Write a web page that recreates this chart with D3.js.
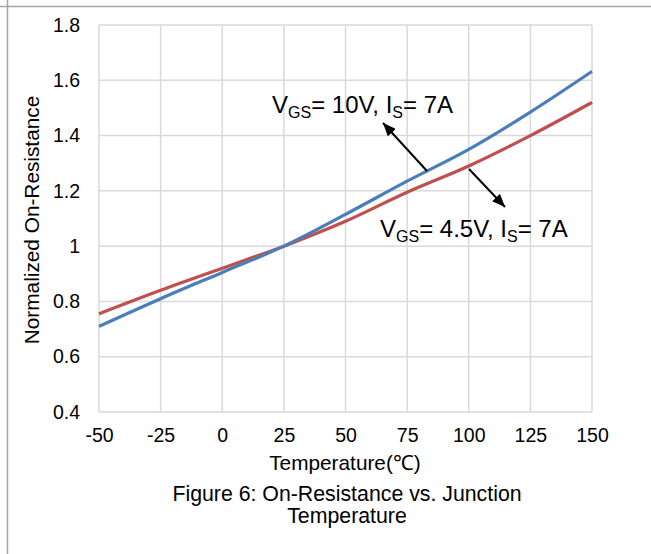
<!DOCTYPE html>
<html><head><meta charset="utf-8">
<script src="https://cdn.jsdelivr.net/npm/d3@7"></script>
<style>body{margin:0;background:#fff}svg{display:block}text{font-family:"Liberation Sans",Arial,sans-serif;fill:#000}</style>
</head><body>
<script>
const temps = [-50, -25, 0, 25, 50, 75, 100, 125, 150];
const vgs10 = [0.71, 0.81, 0.905, 1.0, 1.115, 1.235, 1.35, 1.485, 1.632];
const vgs45 = [0.755, 0.84, 0.92, 1.0, 1.09, 1.195, 1.29, 1.40, 1.52];
const xTicks = [-50, -25, 0, 25, 50, 75, 100, 125, 150];
const yTicks = [0.4, 0.6, 0.8, 1.0, 1.2, 1.4, 1.6, 1.8];

const W = 651, H = 554;
const FONT = "Liberation Sans, Arial, sans-serif";
const svg = d3.select("body").append("svg").attr("width", W).attr("height", H);
const defs = svg.append("defs");
defs.append("marker").attr("id","ah").attr("viewBox","0 0 12 10").attr("refX",12).attr("refY",5)
  .attr("markerWidth",13).attr("markerHeight",11).attr("markerUnits","userSpaceOnUse").attr("orient","auto")
  .append("path").attr("d","M0,0 L12,5 L0,10 Z").attr("fill","#000");

svg.append("line").attr("x1",0).attr("x2",W).attr("y1",6.5).attr("y2",6.5).attr("stroke","#a6a6a6").attr("stroke-width",1.5);
svg.append("line").attr("x1",7.5).attr("x2",7.5).attr("y1",0).attr("y2",H).attr("stroke","#a6a6a6").attr("stroke-width",1.5);

const x = d3.scaleLinear().domain([-50,150]).range([99,592]);
const y = d3.scaleLinear().domain([0.4,1.8]).range([412,25]);

const g = svg.append("g");
g.selectAll(".vg").data(xTicks).join("line").attr("x1",d=>x(d)).attr("x2",d=>x(d)).attr("y1",y(1.8)).attr("y2",y(0.4))
  .attr("stroke","#d9d9d9").attr("stroke-width",1.5);
g.selectAll(".hg").data(yTicks).join("line").attr("x1",x(-50)).attr("x2",x(150)).attr("y1",d=>y(d)).attr("y2",d=>y(d))
  .attr("stroke","#d9d9d9").attr("stroke-width",1.5);

const xa = svg.append("g").attr("transform",`translate(0,${y(0.4)})`)
  .call(d3.axisBottom(x).tickValues(xTicks).tickSize(0).tickPadding(16).tickFormat(d=>String(d)));
xa.select(".domain").remove();
xa.selectAll("text").attr("font-size",19.5).style("font-family",FONT).attr("fill","#000");
const ya = svg.append("g").attr("transform",`translate(${x(-50)},0)`)
  .call(d3.axisLeft(y).tickValues(yTicks).tickSize(0).tickPadding(19).tickFormat(d=> d===1 ? "1" : d3.format(".1f")(d)));
ya.select(".domain").remove();
ya.selectAll("text").attr("font-size",19.5).style("font-family",FONT).attr("fill","#000");

const line = d3.line().x((d,i)=>x(temps[i])).y(d=>y(d)).curve(d3.curveMonotoneX);
svg.append("path").datum(vgs45).attr("d",line).attr("fill","none").attr("stroke","#C0504D").attr("stroke-width",3.2);
svg.append("path").datum(vgs10).attr("d",line).attr("fill","none").attr("stroke","#4A7EBB").attr("stroke-width",3.2);

function label(tx, ty, parts){
  const t = svg.append("text").attr("x",tx).attr("y",ty).attr("font-size",24);
  parts.forEach(p=>{
    const s = t.append("tspan").text(p[0]);
    if(p[1]) s.attr("font-size",16).attr("dy",5); else s.attr("dy",p[2]||0);
  });
}
label(272, 113, [["V"],["GS",1],["= 10V, I",0,-5],["S",1],["= 7A",0,-5]]);
label(380, 237, [["V"],["GS",1],["= 4.5V, I",0,-5],["S",1],["= 7A",0,-5]]);

svg.append("line").attr("x1",427).attr("y1",171).attr("x2",383).attr("y2",123).attr("stroke","#000").attr("stroke-width",2).attr("marker-end","url(#ah)");
svg.append("line").attr("x1",469).attr("y1",169).attr("x2",505).attr("y2",207).attr("stroke","#000").attr("stroke-width",2).attr("marker-end","url(#ah)");

svg.append("text").attr("x",345).attr("y",470).attr("text-anchor","middle").attr("font-size",20.8).text("Temperature(℃)");
svg.append("text").attr("transform","translate(39,220) rotate(-90)").attr("text-anchor","middle").attr("font-size",20.8).text("Normalized On-Resistance");
svg.append("text").attr("x",347).attr("y",501).attr("text-anchor","middle").attr("font-size",21.3).text("Figure 6: On-Resistance vs. Junction");
svg.append("text").attr("x",347).attr("y",523).attr("text-anchor","middle").attr("font-size",21.3).text("Temperature");
</script>
</body></html>
